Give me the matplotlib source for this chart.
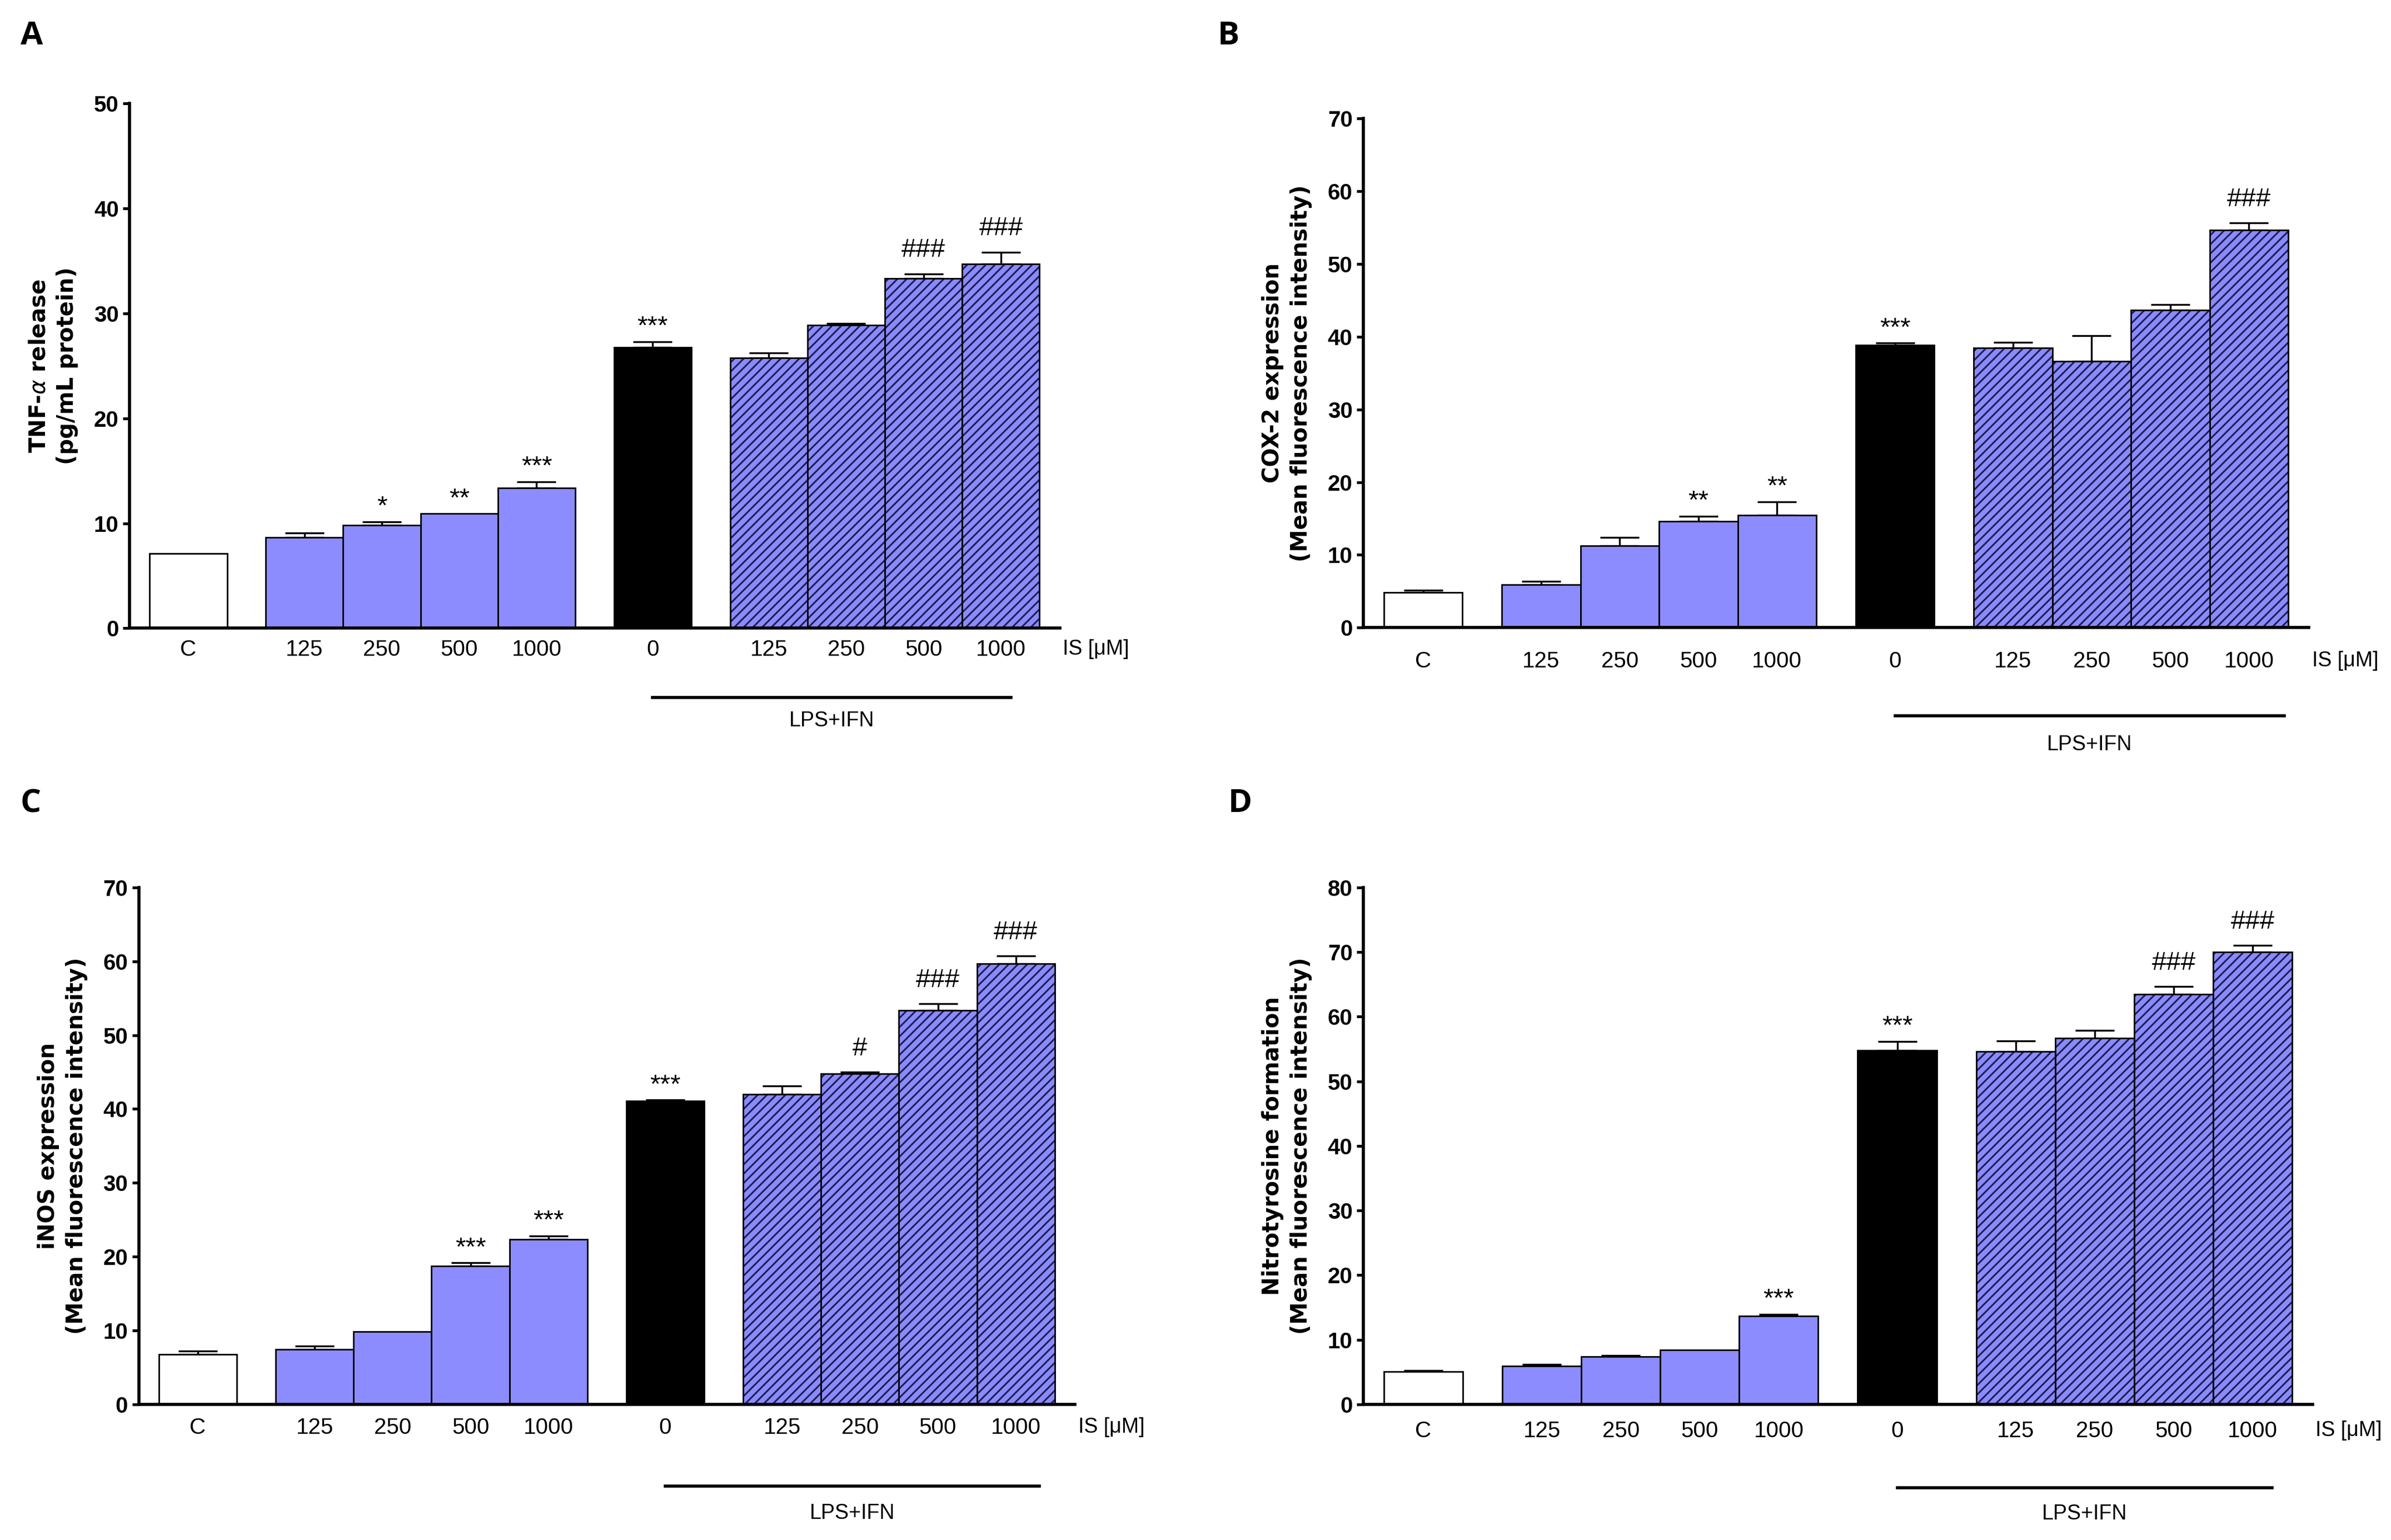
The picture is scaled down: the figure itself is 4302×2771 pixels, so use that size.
import matplotlib
matplotlib.use("Agg")
import matplotlib.pyplot as plt
import matplotlib.transforms as mtransforms
from matplotlib import font_manager
import numpy as np

# bar groups: control, IS alone, LPS+IFN alone, LPS+IFN + IS
groups = ['C', '125', '250', '500', '1000', '0', '125', '250', '500', '1000']
kinds = ['ctrl', 'is', 'is', 'is', 'is', 'lps', 'lpsis', 'lpsis', 'lpsis', 'lpsis']

tnf_mean = [7.1, 8.65, 9.83, 10.92, 13.37, 26.75, 25.76, 28.88, 33.36, 34.74]
tnf_sem = [0.0, 0.4, 0.3, 0.0, 0.6, 0.55, 0.5, 0.15, 0.4, 1.1]
tnf_sig = ['', '', '*', '**', '***', '***', '', '', '###', '###']

cox_mean = [4.85, 5.87, 11.27, 14.62, 15.44, 38.87, 38.46, 36.6, 43.65, 54.64]
cox_sem = [0.25, 0.45, 1.1, 0.7, 1.85, 0.27, 0.8, 3.55, 0.8, 1.0]
cox_sig = ['', '', '', '**', '**', '***', '', '', '', '###']

inos_mean = [6.78, 7.44, 9.87, 18.7, 22.38, 41.08, 42.0, 44.77, 53.39, 59.71]
inos_sem = [0.4, 0.45, 0.0, 0.45, 0.45, 0.15, 1.1, 0.2, 0.85, 1.0]
inos_sig = ['', '', '', '***', '***', '***', '', '#', '###', '###']

nitro_mean = [5.06, 5.89, 7.4, 8.45, 13.66, 54.79, 54.64, 56.68, 63.47, 70.04]
nitro_sem = [0.2, 0.3, 0.15, 0.0, 0.3, 1.4, 1.6, 1.2, 1.2, 1.0]
nitro_sig = ['', '', '', '', '***', '***', '', '', '###', '###']

fnames = {f.name for f in font_manager.fontManager.ttflist}
if 'Liberation Sans Narrow' in fnames:
    narrow, xt_size, is_size = 'Liberation Sans Narrow', 16.5, 16.5
else:
    narrow, xt_size, is_size = 'Liberation Sans', 14.5, 13.5

plt.rcParams['font.family'] = ['Liberation Sans', 'DejaVu Sans']
plt.rcParams['hatch.linewidth'] = 1.1
plt.rcParams['mathtext.fontset'] = 'dejavusans'

col_is = '#8c8cff'
col_hatch_face = '#8a8aff'
col_hatch = '#1e1e50'

# x positions: one bar width gap between the blocks
xpos = np.array([0, 1.5, 2.5, 3.5, 4.5, 6, 7.5, 8.5, 9.5, 10.5])

panels = [
    dict(letter='A', rect=[0.0542, 0.5921, 0.389, 0.3406], ymax=50,
         ylabel='TNF-$\\alpha$ release\n(pg/mL protein)',
         mean=tnf_mean, sem=tnf_sem, sig=tnf_sig,
         tickpad=7, line_off=45, text_off=60, line_end=10.63, lpos=(0.0133, 0.9765)),
    dict(letter='B', rect=[0.5702, 0.5925, 0.3954, 0.3305], ymax=70,
         ylabel='COX-2 expression\n(Mean fluorescence intensity)',
         mean=cox_mean, sem=cox_sem, sig=cox_sig,
         tickpad=15, line_off=57, text_off=76, line_end=10.95, lpos=(0.5137, 0.9765)),
    dict(letter='C', rect=[0.0580, 0.0881, 0.3916, 0.3356], ymax=70,
         ylabel='iNOS expression\n(Mean fluorescence intensity)',
         mean=inos_mean, sem=inos_sem, sig=inos_sig,
         tickpad=8.5, line_off=53, text_off=70.5, line_end=10.8, lpos=(0.0128, 0.478)),
    dict(letter='D', rect=[0.5702, 0.0881, 0.397, 0.3356], ymax=80,
         ylabel='Nitrotyrosine formation\n(Mean fluorescence intensity)',
         mean=nitro_mean, sem=nitro_sem, sig=nitro_sig,
         tickpad=10.5, line_off=54, text_off=71, line_end=10.75, lpos=(0.5186, 0.478)),
]

fig = plt.figure(figsize=(21.51, 13.855), dpi=200)

for p in panels:
    ax = fig.add_axes(p['rect'])
    mean = np.array(p['mean'])
    sem = np.array(p['sem'])

    for x, m, k in zip(xpos, mean, kinds):
        if k == 'ctrl':
            ax.bar(x, m, width=1.0, color='white', edgecolor='black', linewidth=1.0, zorder=2)
        elif k == 'is':
            ax.bar(x, m, width=1.0, color=col_is, edgecolor='black', linewidth=1.0, zorder=2)
        elif k == 'lps':
            ax.bar(x, m, width=1.0, color='black', edgecolor='black', linewidth=1.0, zorder=2)
        else:
            ax.bar(x, m, width=1.0, color=col_hatch_face, edgecolor=col_hatch,
                   hatch='////', linewidth=0, zorder=2)
            ax.bar(x, m, width=1.0, color='none', edgecolor='black', linewidth=1.0, zorder=3)

    has_err = sem > 0
    ax.errorbar(xpos[has_err], mean[has_err],
                yerr=[np.zeros(has_err.sum()), sem[has_err]],
                fmt='none', ecolor='black', elinewidth=1.2, capsize=12.5,
                capthick=1.2, zorder=1)

    for x, m, s, t in zip(xpos, mean, sem, p['sig']):
        if not t:
            continue
        off = 11 if '#' in t else 5
        ax.annotate(t, xy=(x, m + s), xytext=(0, off), textcoords='offset points',
                    ha='center', va='baseline', fontsize=17, family=narrow)

    ax.set_xlim(-0.76, 11.26)
    ax.set_ylim(0, p['ymax'])
    ax.set_yticks(np.arange(0, p['ymax'] + 1, 10))
    ax.set_xticks(xpos)
    ax.set_xticklabels(groups, family=narrow, fontsize=xt_size)
    for lab in ax.get_yticklabels():
        lab.set_fontweight('bold')
        lab.set_fontsize(14.5)
    ax.tick_params(axis='x', length=0, pad=p['tickpad'])
    ax.tick_params(axis='y', length=4.5, width=1.8, pad=2.5, direction='out')
    for side in ['top', 'right']:
        ax.spines[side].set_visible(False)
    for side in ['left', 'bottom']:
        ax.spines[side].set_linewidth(2.0)
    ax.set_ylabel(p['ylabel'], family=['DejaVu Sans'], fontweight='bold',
                  fontsize=14.5, linespacing=1.35, labelpad=10)

    ax.annotate('IS [\u03bcM]', xy=(1, 0), xycoords='axes fraction',
                xytext=(2, -p['tickpad']), textcoords='offset points',
                ha='left', va='top', family=narrow, fontsize=is_size)

    trans_line = mtransforms.offset_copy(ax.get_xaxis_transform(), fig=fig,
                                         y=-p['line_off'], units='points')
    ax.plot([6, p['line_end']], [0, 0], color='black', linewidth=2.0,
            transform=trans_line, clip_on=False)
    trans_txt = mtransforms.offset_copy(ax.get_xaxis_transform(), fig=fig,
                                        y=-p['text_off'], units='points')
    ax.text((6 + p['line_end']) / 2, 0, 'LPS+IFN', transform=trans_txt,
            ha='center', va='center', family=narrow, fontsize=xt_size - 1)

    fig.text(p['lpos'][0], p['lpos'][1], p['letter'], ha='center', va='center',
             fontsize=21, fontweight='bold', family=['Open Sans', 'Liberation Sans'])

fig.savefig('out.png', dpi=200)
